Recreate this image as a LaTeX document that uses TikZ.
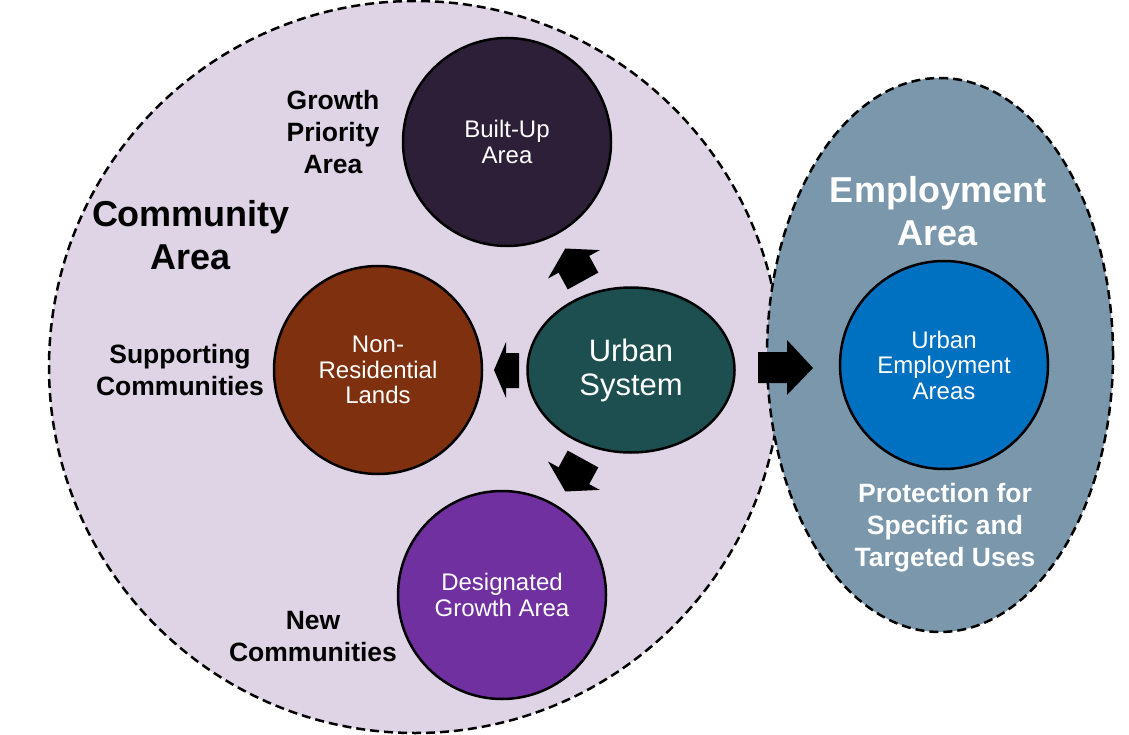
\documentclass[tikz,border=0pt]{standalone}
\usepackage{fontspec}
\setmainfont{Liberation Sans}
\usetikzlibrary{shapes.geometric}
\definecolor{commfill}{HTML}{DED4E6}
\definecolor{empfill}{HTML}{7A97AB}
\definecolor{builtc}{HTML}{2E1F38}
\definecolor{nonresc}{HTML}{7F300F}
\definecolor{desigc}{HTML}{7030A0}
\definecolor{urbanc}{HTML}{1D4F50}
\definecolor{uempc}{HTML}{0070C0}
\tikzset{
 zone/.style={draw=black, line width=2.5pt, dash pattern=on 9pt off 5pt, inner sep=0pt},
 bubble/.style={circle, draw=black, line width=2.5pt, minimum size=208pt, inner sep=0pt, text=white, align=center, font=\fontsize{24}{25.5}\selectfont},
 lbl/.style={align=center, font=\bfseries\fontsize{26.5}{32}\selectfont},
 biglbl/.style={align=center, font=\bfseries\fontsize{36}{43}\selectfont},
 blockarrow/.style={fill=black},
}
\begin{document}
\begin{tikzpicture}[x=1pt,y=-1pt]
\useasboundingbox (0,0) rectangle (1129,735);
\fill[white] (0,0) rectangle (1129,735);
\node[zone, circle, fill=commfill, minimum size=732pt] (comm) at (415,367) {};
\node[zone, ellipse, fill=empfill, minimum width=346pt, minimum height=554pt] (emp) at (940,355) {};

\node[bubble, fill=builtc] (built) at (507,142) {Built-Up\\Area};
\node[bubble, fill=nonresc] (nonres) at (378,370) {Non-\\Residential\\Lands};
\node[bubble, fill=desigc] (desig) at (502,595) {Designated\\Growth Area};
\node[bubble, fill=uempc] (uemp) at (944,365) {Urban\\Employment\\Areas};
\node[ellipse, draw=black, line width=2.5pt, fill=urbanc, minimum width=207pt, minimum height=165pt, inner sep=0pt, text=white, align=center, font=\fontsize{31}{34}\selectfont] (urban) at (631,370) {Urban\\System};

\node[biglbl] (commlbl) at (191,235.5) {Community\\Area};
\node[biglbl, text=white] (emplbl) at (938,211) {Employment\\Area};
\node[lbl] (gpa) at (333,132) {Growth\\Priority\\Area};
\node[lbl] (supp) at (180,370) {Supporting\\Communities};
\node[lbl] (newc) at (313,636.5) {New\\Communities};
\node[lbl, text=white] (prot) at (945,528) {Protection for\\Specific and\\Targeted Uses};

\fill[blockarrow] (565.3,248.5) -- (599.8,250.1) -- (589.2,255.9) -- (598.3,272.6) -- (567.7,289.4) -- (558.6,272.7) -- (548.0,278.5) -- cycle;
\fill[blockarrow] (565.3,491.5) -- (599.8,489.9) -- (589.2,484.1) -- (598.3,467.4) -- (567.7,450.6) -- (558.6,467.3) -- (548.0,461.5) -- cycle;
\fill[blockarrow] (494,370) -- (506,342) -- (506,353) -- (519,353) -- (519,388) -- (506,388) -- (506,398) -- cycle;
\fill[blockarrow] (758,352) -- (787,352) -- (787,340) -- (813,368) -- (787,395) -- (787,383) -- (758,383) -- cycle;
\end{tikzpicture}
\end{document}
